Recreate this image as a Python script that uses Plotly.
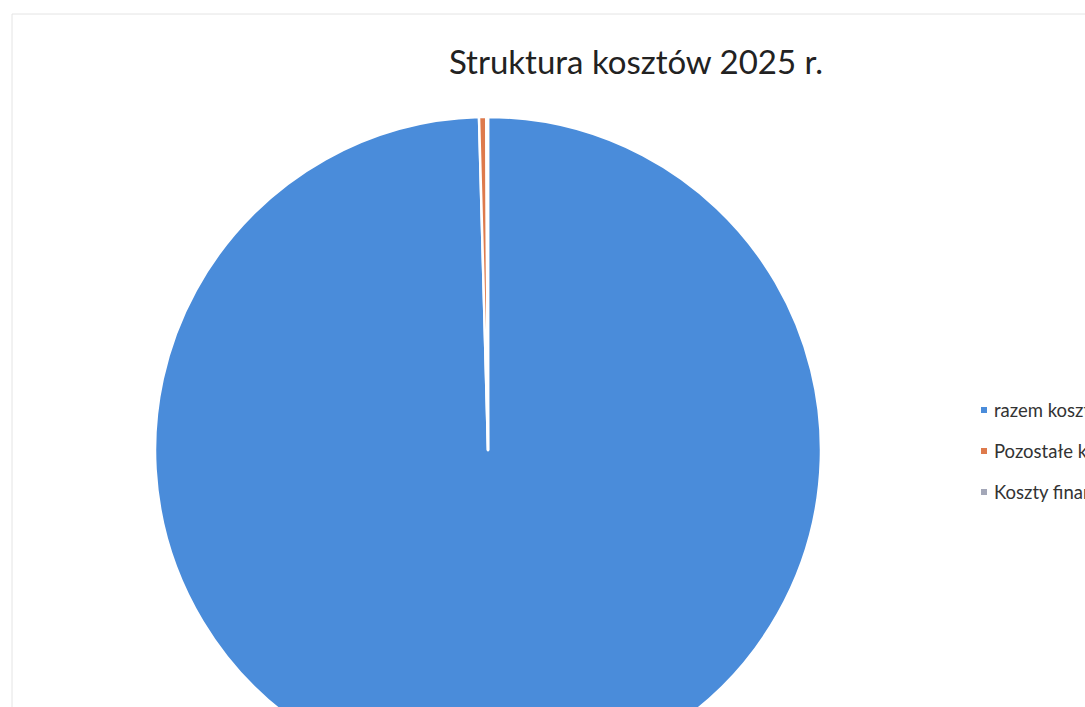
import plotly.graph_objects as go

W, H = 1085, 790

labels = ["razem koszty działalności operacyjnej", "Pozostałe koszty operacyjne", "Koszty finansowe"]
values = [99.57, 0.35, 0.08]
colors = ["#4A8CDA", "#DE7A4C", "#A3A7B8"]
title_text = "Struktura kosztów 2025 r."

def px_x(x):
    return x / W

def px_y(y):
    return 1 - y / H

fig = go.Figure()
fig.add_trace(go.Pie(
    labels=labels,
    values=values,
    sort=False,
    direction="clockwise",
    rotation=0,
    textinfo="none",
    hoverinfo="label+percent",
    marker=dict(colors=colors, line=dict(color="white", width=2.5)),
    domain=dict(x=[px_x(155), px_x(821)], y=[px_y(783), px_y(117)]),
    showlegend=False,
))

# legend drawn as annotations + square markers
legend_y = [410, 451, 492]
shapes = []
annotations = []
for lab, col, yy in zip(labels, colors, legend_y):
    shapes.append(dict(type="rect", xref="paper", yref="paper",
                       x0=px_x(981), x1=px_x(987), y0=px_y(yy + 3), y1=px_y(yy - 3),
                       fillcolor=col, line=dict(width=0)))
    annotations.append(dict(text=lab, xref="paper", yref="paper",
                            x=px_x(992), y=px_y(yy), xanchor="left", yanchor="middle",
                            showarrow=False, font=dict(family="Lato", size=18.5, color="#333333")))

# faint chart border
shapes.append(dict(type="rect", xref="paper", yref="paper",
                   x0=px_x(12), x1=px_x(1100), y0=px_y(800), y1=px_y(14),
                   line=dict(color="#e4e4e4", width=1), fillcolor="rgba(0,0,0,0)"))

fig.update_layout(
    width=W, height=H,
    margin=dict(l=0, r=0, t=0, b=0),
    paper_bgcolor="white",
    plot_bgcolor="white",
    title=dict(text=title_text, x=px_x(636), xanchor="center", y=1 - 62 / H, yanchor="middle",
               font=dict(family="Lato", size=33, color="#222222")),
    shapes=shapes,
    annotations=annotations,
)

fig.write_html("out.html", post_script="document.body.style.overflow='hidden';document.documentElement.style.overflow='hidden';document.body.style.margin='0';")
